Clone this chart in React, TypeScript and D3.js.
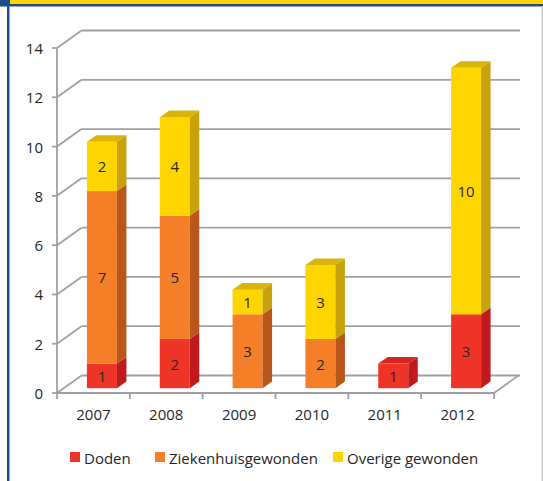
import React from "react";
import * as d3 from "d3";

const years = ["2007", "2008", "2009", "2010", "2011", "2012"];
const doden = [1, 2, 0, 0, 1, 3];
const ziekenhuis = [7, 5, 3, 2, 0, 0];
const overige = [2, 4, 1, 3, 0, 10];
const seriesNames = ["Doden", "Ziekenhuisgewonden", "Overige gewonden"];
const yTicks = [0, 2, 4, 6, 8, 10, 12, 14];

const palette = [
  { front: "#EE3426", side: "#C01A1E", top: "#D62620" },
  { front: "#F47F28", side: "#B9561C", top: "#D96C20" },
  { front: "#FFD500", side: "#C7A20C", top: "#D9B40A" },
];

const W = 543;
const H = 481;
const DX = 24.5; // wall depth projection
const DY = -17.5;
const OX = 8.5; // bar front offset into depth
const OY = -4.8;
const BX = 9.5; // bar depth
const BY = -6.6;
const FONT = "'Open Sans', 'DejaVu Sans', sans-serif";
const FS = 15;

export default function App() {
  const x = d3
    .scaleBand<string>()
    .domain(years)
    .range([57, 494])
    .paddingInner(0.588)
    .paddingOuter(0.294);
  const y = d3.scaleLinear().domain([0, 14]).range([393, 48]);
  const seriesData = [doden, ziekenhuis, overige];
  const stack = d3
    .stack<number>()
    .keys(seriesNames.map((_, i) => String(i)))
    .value((idx, key) => seriesData[+key][idx]);
  const stacked = stack(years.map((_, i) => i));

  const wallRight = 520;
  const x0 = x.range()[0];
  const x1 = x.range()[1];
  const gridColor = "#A0A0A0";
  const gw = 1.8;

  const bars: React.ReactNode[] = [];
  years.forEach((yr, i) => {
    const bx = (x(yr) as number) + OX;
    const bw = x.bandwidth();
    const segs = stacked
      .map((s, k) => ({ k, lo: s[i][0], hi: s[i][1] }))
      .filter((s) => s.hi - s.lo > 0);
    segs.forEach((s, j) => {
      const c = palette[s.k];
      const yt = y(s.hi) + OY;
      const yb = y(s.lo) + OY;
      const isTop = j === segs.length - 1;
      bars.push(
        <g key={`${yr}-${s.k}`}>
          <rect x={bx} y={yt} width={bw} height={yb - yt} fill={c.front} />
          <polygon
            points={`${bx + bw},${yt} ${bx + bw + BX},${yt + BY} ${bx + bw + BX},${yb + BY} ${bx + bw},${yb}`}
            fill={c.side}
          />
          {isTop && (
            <polygon
              points={`${bx},${yt} ${bx + BX},${yt + BY} ${bx + bw + BX},${yt + BY} ${bx + bw},${yt}`}
              fill={c.top}
            />
          )}
          <text
            x={bx + bw / 2}
            y={(yt + yb) / 2}
            textAnchor="middle"
            dominantBaseline="central"
            fontFamily={FONT}
            fontSize={FS}
            fill="#262626"
          >
            {seriesData[s.k][i]}
          </text>
        </g>
      );
    });
  });

  const legendX = [70, 155, 333];

  return (
    <svg
      width={W}
      height={H}
      style={{ position: "absolute", left: 0, top: 0, background: "#fff" }}
    >
      {/* frame */}
      <rect x={0} y={0} width={W} height={4} fill="#FFD400" />
      <rect x={0} y={0} width={10} height={4} fill="#1B4F8A" />
      <rect x={0} y={4} width={W} height={2} fill="#1B4F8A" />
      <rect x={0} y={6} width={W} height={1} fill="#9AA4B0" />
      <rect x={7} y={4} width={2} height={H - 4} fill="#1B4F8A" />
      <rect x={9} y={6} width={1} height={H - 6} fill="#9AA4B0" />
      <rect x={541.5} y={6} width={1.5} height={H - 6} fill="#C8C8C8" />

      {/* gridlines: side wall diagonals and back wall */}
      {yTicks.map((t) => (
        <g key={t}>
          <line
            x1={x0}
            y1={y(t)}
            x2={x0 + DX}
            y2={y(t) + DY}
            stroke={gridColor}
            strokeWidth={gw}
          />
          <line
            x1={x0 + DX}
            y1={y(t) + DY}
            x2={wallRight}
            y2={y(t) + DY}
            stroke={gridColor}
            strokeWidth={gw}
          />
        </g>
      ))}
      {/* floor */}
      <line x1={x0} y1={y(0)} x2={x1} y2={y(0)} stroke={gridColor} strokeWidth={gw} />
      <line
        x1={x1}
        y1={y(0)}
        x2={x1 + DX}
        y2={y(0) + DY}
        stroke={gridColor}
        strokeWidth={gw}
      />
      {/* front vertical axis */}
      <line x1={x0} y1={y(14)} x2={x0} y2={y(0)} stroke={gridColor} strokeWidth={gw} />
      {yTicks.map((t) => (
        <line
          key={`tk${t}`}
          x1={x0 - 5}
          y1={y(t)}
          x2={x0}
          y2={y(t)}
          stroke={gridColor}
          strokeWidth={gw}
        />
      ))}
      {yTicks.map((t) => (
        <text
          key={`tl${t}`}
          x={43}
          y={y(t)}
          textAnchor="end"
          dominantBaseline="central"
          fontFamily={FONT}
          fontSize={FS}
          fill="#262626"
        >
          {t}
        </text>
      ))}
      {/* x ticks */}
      {years.concat(["end"]).map((yr, i) => {
        const xv = x0 + x.step() * i;
        return (
          <line
            key={`xt${i}`}
            x1={xv}
            y1={y(0)}
            x2={xv}
            y2={y(0) + 6}
            stroke={gridColor}
            strokeWidth={gw}
          />
        );
      })}
      {years.map((yr) => (
        <text
          key={`xl${yr}`}
          x={(x(yr) as number) + x.bandwidth() / 2}
          y={414}
          textAnchor="middle"
          dominantBaseline="central"
          fontFamily={FONT}
          fontSize={FS}
          fill="#262626"
        >
          {yr}
        </text>
      ))}

      {bars}

      {/* legend */}
      {seriesNames.map((n, k) => (
        <g key={n}>
          <rect x={legendX[k]} y={452} width={10} height={10} fill={palette[k].front} />
          <text
            x={legendX[k] + 14}
            y={457.5}
            dominantBaseline="central"
            fontFamily={FONT}
            fontSize={FS}
            fill="#262626"
          >
            {n}
          </text>
        </g>
      ))}
    </svg>
  );
}
